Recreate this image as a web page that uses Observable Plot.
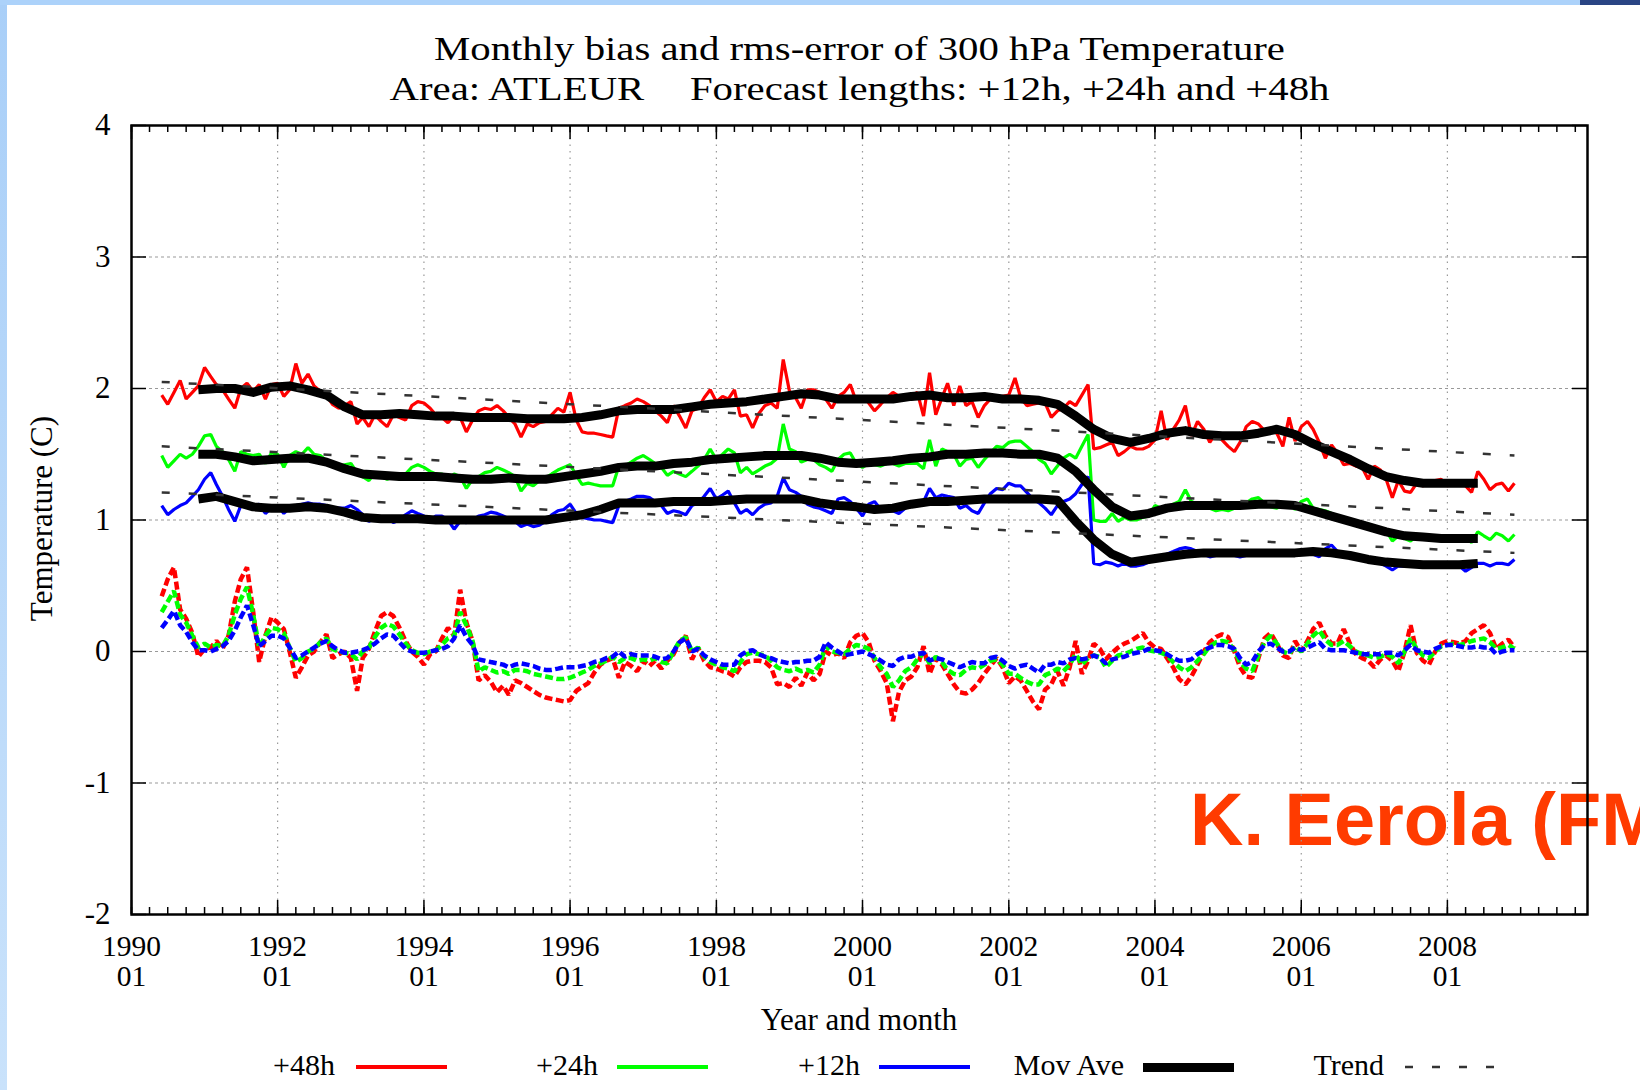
<!DOCTYPE html>
<html>
<head>
<meta charset="utf-8">
<script src="https://cdn.jsdelivr.net/npm/d3@7"></script>
<script src="https://cdn.jsdelivr.net/npm/@observablehq/plot@0.6"></script>
<style>
  html, body { margin: 0; padding: 0; width: 1640px; height: 1090px; overflow: hidden; background: #fff; }
  #page { position: relative; width: 1640px; height: 1090px; font-family: "Liberation Serif", "Times New Roman", serif; color: #000; }
  .strip-left { position: absolute; left: 0; top: 0; width: 7px; height: 1090px; background: linear-gradient(#a9cff8, #c9e2fb); }
  .strip-top { position: absolute; left: 0; top: 0; width: 1640px; height: 5px; background: #acd2fa; }
  .corner { position: absolute; left: 1580px; top: 0; width: 60px; height: 5px; background: #2a4584; }
  .credit { position: absolute; left: 1190px; top: 783px; font-family: "Liberation Sans", Arial, sans-serif; font-weight: bold; font-size: 74px; line-height: 74px; color: #ff3b00; white-space: nowrap; }
  #chart { position: absolute; left: 0; top: 0; }
  .title { position: absolute; left: 131px; width: 1456px; text-align: center; font-size: 33px; line-height: 33px; white-space: nowrap; }
  .wide { display: inline-block; transform: scaleX(1.235); transform-origin: 50% 50%; }
  .gap { display: inline-block; width: 37px; }
  .xlabel { position: absolute; left: 131px; width: 1456px; top: 1004px; text-align: center; font-size: 31px; line-height: 31px; white-space: nowrap; }
  .ylabel { position: absolute; left: -109px; top: 503px; width: 300px; height: 31px; text-align: center; font-size: 31px; line-height: 31px; white-space: nowrap; transform: rotate(-90deg); transform-origin: 50% 50%; }
  .lk { position: absolute; top: 1050px; width: 200px; text-align: right; font-size: 30px; line-height: 30px; white-space: nowrap; }
  .sw { position: absolute; width: 91px; }
</style>
</head>
<body>
<div id="page">
  <div class="strip-left"></div>
  <div class="strip-top"></div>
  <div class="corner"></div>
  <div class="credit">K. Eerola (FMI)</div>
  <div id="chart"></div>
  <div class="title" style="top:33px"><span class="wide">Monthly bias and rms-error of 300 hPa Temperature</span></div>
  <div class="title" style="top:73px"><span class="wide">Area: ATLEUR<span class="gap"></span>Forecast lengths: +12h, +24h and +48h</span></div>
  <div class="ylabel">Temperature (C)</div>
  <div class="xlabel">Year and month</div>

  <div class="lk" style="left:135px">+48h</div>
  <div class="sw" style="left:356px; top:1065px; border-top:4px solid #ff0000"></div>
  <div class="lk" style="left:398px">+24h</div>
  <div class="sw" style="left:617px; top:1065px; border-top:4px solid #00ff00"></div>
  <div class="lk" style="left:660px">+12h</div>
  <div class="sw" style="left:879px; top:1065px; border-top:4px solid #0000ff"></div>
  <div class="lk" style="left:924px">Mov Ave</div>
  <div class="sw" style="left:1143px; top:1063px; border-top:9px solid #000"></div>
  <div class="lk" style="left:1184px">Trend</div>
  <svg class="sw" style="left:1405px; top:1062px" width="91" height="10"><line x1="0" y1="5" x2="91" y2="5" stroke="#333" stroke-width="2.5" stroke-dasharray="8,19"/></svg>
</div>

<script>
// Monthly verification scores of 300 hPa temperature, ATLEUR area, 1990-06 … 2008-12 (°C)
const months = d3.utcMonth.range(new Date(Date.UTC(1990, 5, 1)), new Date(Date.UTC(2009, 0, 1)));

// RMS error
const rms48 = [
  1.95,1.88,1.97,2.06,1.92,1.97,2.02,2.16,2.09,2.03,
  1.99,1.92,1.85,2.00,2.04,1.98,2.03,1.92,2.03,2.04,
  1.94,1.99,2.19,2.04,2.11,2.02,1.98,1.95,1.88,1.85,
  1.87,1.90,1.73,1.78,1.71,1.80,1.75,1.71,1.80,1.78,
  1.76,1.87,1.90,1.89,1.85,1.80,1.78,1.74,1.80,1.78,
  1.67,1.76,1.83,1.85,1.84,1.87,1.83,1.78,1.73,1.63,
  1.73,1.71,1.74,1.75,1.80,1.85,1.82,1.97,1.76,1.67,
  1.66,1.66,1.65,1.64,1.63,1.85,1.87,1.89,1.92,1.90,
  1.87,1.83,1.79,1.74,1.87,1.79,1.70,1.83,1.85,1.93,
  1.99,1.90,1.94,1.92,1.99,1.79,1.80,1.70,1.81,1.87,
  1.89,1.85,2.22,1.98,1.93,1.85,1.99,1.99,1.97,1.92,
  1.85,1.94,1.97,2.03,1.90,1.94,1.89,1.83,1.88,1.93,
  1.97,1.94,1.92,1.94,1.97,1.79,2.12,1.80,1.93,2.04,
  1.87,2.02,1.87,1.90,1.78,1.87,1.92,1.93,1.94,1.95,
  2.08,1.93,1.87,1.88,1.89,1.89,1.78,1.83,1.85,1.90,
  1.87,1.95,2.03,1.54,1.55,1.57,1.59,1.49,1.52,1.56,
  1.54,1.54,1.56,1.61,1.83,1.61,1.69,1.76,1.87,1.64,
  1.75,1.69,1.59,1.66,1.61,1.56,1.52,1.59,1.71,1.75,
  1.73,1.68,1.68,1.66,1.56,1.78,1.60,1.71,1.75,1.69,
  1.59,1.47,1.57,1.51,1.42,1.43,1.41,1.40,1.31,1.41,
  1.38,1.31,1.17,1.30,1.22,1.21,1.28,1.26,1.28,1.30,
  1.31,1.26,1.28,1.30,1.26,1.21,1.37,1.31,1.23,1.27,
  1.28,1.22,1.28
];
const rms24 = [
  1.49,1.40,1.45,1.50,1.47,1.50,1.56,1.64,1.65,1.56,
  1.52,1.46,1.37,1.52,1.50,1.49,1.50,1.43,1.51,1.50,
  1.40,1.49,1.52,1.50,1.55,1.50,1.49,1.45,1.42,1.41,
  1.42,1.43,1.36,1.33,1.30,1.36,1.33,1.31,1.33,1.31,
  1.35,1.40,1.42,1.40,1.37,1.35,1.35,1.31,1.35,1.33,
  1.24,1.31,1.33,1.36,1.37,1.40,1.38,1.36,1.33,1.22,
  1.28,1.26,1.30,1.32,1.35,1.38,1.40,1.42,1.34,1.27,
  1.28,1.27,1.26,1.26,1.26,1.41,1.41,1.44,1.47,1.49,
  1.46,1.43,1.40,1.34,1.37,1.35,1.33,1.37,1.41,1.46,
  1.54,1.46,1.50,1.54,1.51,1.36,1.40,1.35,1.38,1.41,
  1.43,1.47,1.73,1.54,1.52,1.44,1.46,1.46,1.42,1.40,
  1.37,1.46,1.50,1.51,1.43,1.40,1.43,1.42,1.41,1.43,
  1.43,1.41,1.43,1.43,1.43,1.39,1.61,1.41,1.54,1.52,
  1.50,1.41,1.46,1.47,1.40,1.46,1.51,1.56,1.55,1.59,
  1.60,1.60,1.56,1.52,1.46,1.43,1.35,1.41,1.47,1.50,
  1.47,1.56,1.65,1.00,0.99,0.99,1.05,0.99,1.02,1.00,
  1.00,1.02,1.03,1.11,1.09,1.08,1.12,1.14,1.23,1.14,
  1.12,1.09,1.09,1.07,1.08,1.07,1.09,1.12,1.13,1.16,
  1.17,1.13,1.10,1.09,1.12,1.13,1.08,1.14,1.16,1.09,
  1.08,1.07,1.05,1.03,1.02,1.00,0.99,0.98,0.97,0.95,
  0.94,0.92,0.84,0.88,0.86,0.84,0.88,0.87,0.86,0.88,
  0.86,0.86,0.88,0.87,0.86,0.83,0.91,0.88,0.85,0.90,
  0.88,0.84,0.89
];
const rms12 = [
  1.11,1.04,1.08,1.11,1.13,1.18,1.23,1.31,1.36,1.27,
  1.18,1.08,0.99,1.11,1.13,1.11,1.12,1.05,1.09,1.11,
  1.05,1.09,1.11,1.12,1.13,1.12,1.12,1.11,1.08,1.09,
  1.09,1.11,1.08,1.04,0.99,1.02,1.00,1.02,0.98,1.00,
  1.04,1.07,1.05,1.03,1.00,1.03,1.03,1.00,0.93,0.99,
  0.98,1.00,1.03,1.04,1.06,1.05,1.03,1.01,0.99,0.95,
  0.97,0.95,0.96,0.99,1.04,1.07,1.08,1.12,1.05,1.02,
  1.01,1.00,1.00,0.99,0.98,1.11,1.14,1.16,1.18,1.18,
  1.17,1.14,1.11,1.05,1.07,1.06,1.04,1.11,1.13,1.18,
  1.24,1.16,1.19,1.22,1.13,1.05,1.08,1.04,1.09,1.12,
  1.13,1.18,1.32,1.23,1.21,1.18,1.12,1.10,1.09,1.07,
  1.05,1.16,1.17,1.14,1.09,1.03,1.12,1.14,1.08,1.07,
  1.07,1.05,1.09,1.12,1.13,1.14,1.24,1.17,1.19,1.18,
  1.17,1.09,1.11,1.07,1.05,1.13,1.20,1.24,1.23,1.28,
  1.26,1.26,1.21,1.16,1.13,1.09,1.04,1.11,1.14,1.16,
  1.20,1.27,1.33,0.67,0.66,0.68,0.67,0.65,0.67,0.65,
  0.65,0.66,0.68,0.70,0.71,0.74,0.76,0.78,0.79,0.78,
  0.76,0.74,0.72,0.73,0.74,0.74,0.73,0.72,0.73,0.74,
  0.74,0.73,0.74,0.73,0.74,0.75,0.74,0.75,0.75,0.74,
  0.72,0.78,0.81,0.76,0.75,0.74,0.72,0.71,0.70,0.68,
  0.67,0.65,0.62,0.65,0.65,0.65,0.65,0.65,0.65,0.66,
  0.65,0.64,0.65,0.65,0.61,0.64,0.67,0.67,0.65,0.67,
  0.67,0.66,0.70
];

// Bias
const bias48 = [
  0.42,0.55,0.64,0.32,0.25,0.14,-0.04,0.02,0.03,0.08,
  0.02,0.12,0.38,0.55,0.64,0.30,-0.08,0.12,0.26,0.22,
  0.17,0.00,-0.20,-0.12,-0.03,0.00,0.07,0.13,-0.05,-0.02,
  0.00,-0.05,-0.30,-0.05,0.02,0.15,0.27,0.30,0.27,0.18,
  0.08,0.00,-0.04,-0.10,-0.02,0.00,0.10,0.18,0.12,0.47,
  0.22,0.08,-0.22,-0.18,-0.23,-0.31,-0.26,-0.33,-0.22,-0.24,
  -0.27,-0.30,-0.33,-0.35,-0.36,-0.37,-0.38,-0.37,-0.30,-0.27,
  -0.24,-0.16,-0.10,-0.07,-0.05,-0.20,-0.08,-0.11,-0.15,-0.07,
  -0.11,-0.07,-0.13,-0.07,-0.02,0.07,0.12,-0.06,0.03,-0.07,
  -0.12,-0.13,-0.15,-0.16,-0.19,-0.12,-0.08,-0.07,-0.07,-0.08,
  -0.12,-0.25,-0.24,-0.27,-0.20,-0.26,-0.16,-0.22,-0.17,0.00,
  -0.03,-0.01,-0.05,0.07,0.12,0.14,0.07,-0.07,-0.15,-0.24,
  -0.53,-0.31,-0.22,-0.19,-0.12,0.04,-0.17,-0.05,-0.10,-0.17,
  -0.25,-0.31,-0.32,-0.29,-0.24,-0.17,-0.11,-0.05,-0.12,-0.24,
  -0.19,-0.22,-0.30,-0.38,-0.44,-0.29,-0.25,-0.15,-0.26,-0.12,
  0.08,-0.17,-0.07,0.06,0.02,-0.06,-0.01,0.03,0.06,0.08,
  0.11,0.14,0.07,0.03,0.02,-0.05,-0.12,-0.21,-0.25,-0.19,
  -0.10,0.00,0.07,0.11,0.13,0.11,0.00,-0.12,-0.19,-0.20,
  -0.05,0.10,0.14,0.06,-0.03,-0.05,0.08,0.00,0.08,0.17,
  0.22,0.12,0.06,0.06,0.17,0.06,-0.02,-0.05,-0.07,-0.12,
  -0.06,-0.03,-0.07,-0.15,0.00,0.20,-0.01,-0.07,-0.10,0.00,
  0.06,0.08,0.07,0.06,0.08,0.14,0.17,0.20,0.14,0.02,
  0.06,0.09,0.03
];
const bias24 = [
  0.30,0.38,0.46,0.28,0.22,0.12,0.03,0.06,0.03,0.05,
  0.04,0.12,0.28,0.40,0.49,0.28,0.03,0.12,0.18,0.17,
  0.14,0.03,-0.08,-0.05,0.00,0.02,0.07,0.10,0.02,0.00,
  -0.01,-0.02,-0.06,0.00,0.03,0.11,0.18,0.21,0.19,0.13,
  0.06,0.01,-0.01,-0.02,0.00,0.01,0.05,0.10,0.12,0.30,
  0.20,0.08,-0.15,-0.12,-0.14,-0.16,-0.15,-0.17,-0.14,-0.14,
  -0.15,-0.17,-0.18,-0.19,-0.20,-0.21,-0.21,-0.20,-0.18,-0.16,
  -0.14,-0.11,-0.09,-0.07,-0.04,-0.08,-0.05,-0.05,-0.07,-0.06,
  -0.07,-0.05,-0.08,-0.09,0.00,0.08,0.11,0.00,0.03,-0.04,
  -0.08,-0.10,-0.12,-0.13,-0.15,-0.08,-0.02,-0.01,-0.02,-0.03,
  -0.07,-0.12,-0.14,-0.15,-0.13,-0.15,-0.14,-0.16,-0.10,0.04,
  0.00,-0.01,-0.02,0.02,0.05,0.04,0.02,-0.05,-0.12,-0.17,
  -0.27,-0.22,-0.15,-0.12,-0.06,-0.01,-0.09,-0.04,-0.08,-0.14,
  -0.17,-0.18,-0.14,-0.12,-0.13,-0.10,-0.07,-0.06,-0.10,-0.17,
  -0.17,-0.20,-0.23,-0.25,-0.25,-0.18,-0.16,-0.13,-0.15,-0.10,
  -0.02,-0.10,-0.05,-0.03,-0.04,-0.12,-0.07,-0.03,-0.02,0.00,
  0.02,0.03,0.01,0.00,-0.01,-0.03,-0.08,-0.12,-0.15,-0.12,
  -0.07,-0.02,0.04,0.07,0.08,0.07,0.01,-0.08,-0.13,-0.15,
  -0.03,0.07,0.12,0.06,0.00,-0.02,0.04,0.00,0.06,0.12,
  0.16,0.09,0.05,0.05,0.08,0.04,0.00,-0.02,-0.03,-0.05,
  -0.04,-0.02,-0.04,-0.09,0.00,0.10,0.02,-0.03,-0.05,0.00,
  0.04,0.05,0.06,0.05,0.06,0.08,0.09,0.10,0.07,0.02,
  0.03,0.05,0.02
];
const bias12 = [
  0.18,0.24,0.31,0.20,0.15,0.07,0.01,0.01,0.00,0.02,
  0.04,0.08,0.16,0.26,0.35,0.20,0.04,0.08,0.12,0.12,
  0.10,0.03,-0.05,-0.03,0.00,0.03,0.06,0.08,0.04,0.01,
  -0.01,-0.01,0.00,0.01,0.03,0.06,0.10,0.13,0.12,0.07,
  0.02,0.00,-0.01,-0.01,0.00,0.01,0.02,0.04,0.10,0.20,
  0.11,0.05,-0.06,-0.07,-0.08,-0.09,-0.10,-0.12,-0.10,-0.09,
  -0.10,-0.11,-0.13,-0.14,-0.14,-0.13,-0.12,-0.12,-0.12,-0.11,
  -0.10,-0.08,-0.07,-0.05,-0.04,0.00,-0.04,-0.02,-0.03,-0.03,
  -0.03,-0.04,-0.06,-0.05,0.00,0.07,0.10,0.00,0.02,-0.03,
  -0.06,-0.08,-0.10,-0.10,-0.10,-0.03,0.00,0.01,-0.02,-0.04,
  -0.05,-0.07,-0.08,-0.09,-0.08,-0.08,-0.07,-0.07,-0.04,0.07,
  0.03,0.00,-0.03,-0.02,-0.01,0.00,-0.02,-0.04,-0.07,-0.10,
  -0.11,-0.06,-0.04,-0.04,-0.02,-0.01,-0.07,-0.05,-0.06,-0.08,
  -0.10,-0.12,-0.10,-0.08,-0.09,-0.09,-0.05,-0.04,-0.07,-0.11,
  -0.13,-0.11,-0.10,-0.13,-0.16,-0.10,-0.10,-0.08,-0.09,-0.06,
  -0.05,-0.06,-0.05,-0.03,-0.05,-0.09,-0.06,-0.05,-0.04,-0.02,
  -0.01,0.00,0.02,0.01,0.00,-0.02,-0.05,-0.07,-0.07,-0.06,
  -0.02,0.01,0.03,0.05,0.05,0.04,0.02,-0.05,-0.10,-0.08,
  0.00,0.05,0.06,0.03,0.00,0.00,0.03,0.01,0.03,0.05,
  0.07,0.02,0.01,0.01,0.01,0.00,-0.01,-0.02,-0.02,-0.02,
  -0.02,-0.01,-0.01,-0.03,0.01,0.05,0.01,0.00,-0.01,0.02,
  0.04,0.05,0.05,0.04,0.03,0.03,0.04,0.03,0.03,-0.02,
  0.00,0.01,0.01
];

// 12-month moving average of the RMS error, every third month 1990-12 … 2008-06
const maMonths = d3.utcMonth.range(new Date(Date.UTC(1990, 11, 1)), new Date(Date.UTC(2008, 6, 1)), 3);
const ma48 = [
  1.99,2.00,2.00,1.97,2.01,2.02,1.99,1.95,1.86,1.80,
  1.80,1.81,1.80,1.79,1.79,1.78,1.78,1.78,1.77,1.77,
  1.77,1.78,1.80,1.83,1.84,1.84,1.84,1.86,1.88,1.89,
  1.90,1.92,1.94,1.96,1.95,1.92,1.92,1.92,1.92,1.94,
  1.95,1.93,1.93,1.94,1.92,1.92,1.91,1.88,1.79,1.69,
  1.62,1.59,1.62,1.66,1.68,1.65,1.64,1.64,1.66,1.69,
  1.65,1.58,1.52,1.46,1.39,1.33,1.30,1.28,1.28,1.28,
  1.28
];
const ma24 = [
  1.50,1.50,1.48,1.45,1.46,1.47,1.47,1.44,1.39,1.35,
  1.34,1.33,1.33,1.33,1.32,1.31,1.31,1.32,1.31,1.31,
  1.33,1.35,1.37,1.40,1.41,1.41,1.43,1.44,1.46,1.47,
  1.48,1.49,1.49,1.49,1.47,1.44,1.43,1.44,1.45,1.47,
  1.48,1.50,1.50,1.51,1.51,1.50,1.50,1.47,1.37,1.23,
  1.10,1.03,1.05,1.09,1.11,1.11,1.11,1.11,1.12,1.12,
  1.11,1.07,1.03,0.99,0.95,0.91,0.88,0.87,0.86,0.86,
  0.86
];
const ma12 = [
  1.16,1.18,1.14,1.10,1.09,1.09,1.10,1.09,1.06,1.02,
  1.01,1.01,1.01,1.00,1.00,1.00,1.00,1.00,1.00,1.00,
  1.02,1.04,1.08,1.13,1.13,1.13,1.14,1.14,1.14,1.15,
  1.16,1.16,1.16,1.16,1.13,1.11,1.10,1.08,1.09,1.12,
  1.14,1.14,1.15,1.16,1.16,1.16,1.16,1.15,0.99,0.85,
  0.74,0.68,0.70,0.72,0.74,0.75,0.75,0.75,0.75,0.75,
  0.75,0.76,0.75,0.73,0.70,0.68,0.67,0.66,0.66,0.66,
  0.67
];

// Linear trend of the RMS error over the whole period
const trendMonths = [new Date(Date.UTC(1990, 5, 1)), new Date(Date.UTC(2008, 11, 1))];
const trend48 = [2.05, 1.49];
const trend24 = [1.56, 1.04];
const trend12 = [1.21, 0.75];

// Axis ticks
const yTicks = [-2, -1, 0, 1, 2, 3, 4];
const yearTicks = d3.utcYear.every(2).range(new Date(Date.UTC(1990, 0, 1)), new Date(Date.UTC(2009, 0, 1)));
const quarterTicks = d3.utcMonth.range(new Date(Date.UTC(1990, 0, 1)), new Date(Date.UTC(2009, 11, 2)), 3);

const rows = (dates, values) => dates.map((date, i) => ({date, value: values[i]}));

const W = 1640, H = 1090;
const mTop = 125, mBottom = 176, mLeft = 131, mRight = 53;
const frameW = W - mLeft - mRight, frameH = H - mTop - mBottom;

const RED = "#ff0000", GREEN = "#00ff00", BLUE = "#0000ff";
const solid = (data, stroke) => Plot.line(data, {x: "date", y: "value", stroke, strokeWidth: 3.2, strokeLinejoin: "miter", strokeLinecap: "butt"});
const dashed = (data, stroke) => Plot.line(data, {x: "date", y: "value", stroke, strokeWidth: 4.5, strokeDasharray: "8,3.5", strokeLinejoin: "miter", strokeLinecap: "butt"});
const movAve = (data) => Plot.line(data, {x: "date", y: "value", stroke: "#000", strokeWidth: 9, strokeLinecap: "butt"});
const trend = (data) => Plot.line(data, {x: "date", y: "value", stroke: "#333", strokeWidth: 2.5, strokeDasharray: "8,19", strokeLinecap: "butt"});

const chart = Plot.plot({
  width: W,
  height: H,
  marginTop: mTop,
  marginBottom: mBottom,
  marginLeft: mLeft,
  marginRight: mRight,
  style: {fontFamily: "'Liberation Serif', 'Times New Roman', serif", fontSize: "31px", background: "transparent", overflow: "visible", color: "#000"},
  x: {type: "utc", domain: [new Date(Date.UTC(1990, 0, 1)), new Date(Date.UTC(2009, 11, 1))]},
  y: {domain: [-2, 4]},
  marks: [
    Plot.gridY(yTicks.slice(1, -1), {stroke: "#999", strokeOpacity: 1, strokeWidth: 1, strokeDasharray: "3,3"}),
    Plot.gridX(yearTicks.slice(1), {stroke: "#999", strokeOpacity: 1, strokeWidth: 1.2, strokeDasharray: "1.5,5"}),

    dashed(rows(months, bias48), RED),
    dashed(rows(months, bias24), GREEN),
    dashed(rows(months, bias12), BLUE),

    solid(rows(months, rms48), RED),
    solid(rows(months, rms24), GREEN),
    solid(rows(months, rms12), BLUE),

    movAve(rows(maMonths, ma48)),
    movAve(rows(maMonths, ma24)),
    movAve(rows(maMonths, ma12)),

    trend(rows(trendMonths, trend48)),
    trend(rows(trendMonths, trend24)),
    trend(rows(trendMonths, trend12)),

    // inward tick marks on all four sides
    Plot.tickX(quarterTicks, {x: d => d, stroke: "#000", strokeWidth: 1.5, insetTop: frameH - 7}),
    Plot.tickX(quarterTicks, {x: d => d, stroke: "#000", strokeWidth: 1.5, insetBottom: frameH - 7}),
    Plot.tickX(yearTicks, {x: d => d, stroke: "#000", strokeWidth: 1.5, insetTop: frameH - 14}),
    Plot.tickX(yearTicks, {x: d => d, stroke: "#000", strokeWidth: 1.5, insetBottom: frameH - 14}),
    Plot.tickY(yTicks, {y: d => d, stroke: "#000", strokeWidth: 1.5, insetRight: frameW - 15}),
    Plot.tickY(yTicks, {y: d => d, stroke: "#000", strokeWidth: 1.5, insetLeft: frameW - 15}),

    Plot.frame({stroke: "#000", strokeWidth: 2.5}),

    Plot.axisX(yearTicks, {
      tickSize: 0, tickPadding: 21, fontSize: 29.5, lineHeight: 1, label: null,
      tickFormat: d => `${d.getUTCFullYear()}\n01`
    }),
    Plot.axisY(yTicks, {tickSize: 0, tickPadding: 21, fontSize: 31, label: null, tickFormat: d => String(d)})
  ]
});

document.getElementById("chart").append(chart);
</script>
</body>
</html>
